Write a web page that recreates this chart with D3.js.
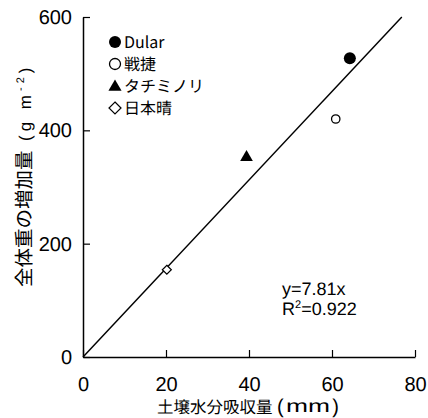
<!DOCTYPE html>
<html><head><meta charset="utf-8">
<script src="https://cdn.jsdelivr.net/npm/d3@7"></script>
<style>body{margin:0;background:#fff}svg{display:block}</style>
</head><body>
<script>
const varieties = ["Dular", "戦捷", "タチミノリ", "日本晴"];
const waterUptake = [64.3, 60.9, 39.4, 20.2];
const weightGain = [527, 420, 354, 154];
const markerTypes = ["filledCircle", "openCircle", "triangle", "diamond"];
const xTicks = [0, 20, 40, 60, 80];
const yTicks = [0, 200, 400, 600];
const slope = 7.81;
const r2 = "0.922";

const W = 428, H = 418;
const svg = d3.select("body").append("svg").attr("width", W).attr("height", H)
  .style("text-rendering", "geometricPrecision");
const x = d3.scaleLinear().domain([0, 80]).range([83, 415]);
const y = d3.scaleLinear().domain([0, 600]).range([357, 17]);
const numFont = "'Liberation Sans', Arial, sans-serif";
const jpFont = "'Noto Sans CJK JP', sans-serif";

// axes
const xa = svg.append("g").attr("transform", `translate(0,${y(0)})`)
  .call(d3.axisBottom(x).tickValues(xTicks).tickSizeInner(-7).tickSizeOuter(0).tickPadding(20));
const ya = svg.append("g").attr("transform", `translate(${x(0)},0)`)
  .call(d3.axisLeft(y).tickValues(yTicks).tickSizeInner(-7).tickSizeOuter(0).tickPadding(11));
[xa, ya].forEach(g => {
  g.selectAll("path.domain").attr("stroke", "#000").attr("stroke-width", 1.5);
  g.selectAll(".tick line").attr("stroke", "#000").attr("stroke-width", 1.2);
  g.selectAll(".tick text").attr("font-family", numFont).attr("font-size", 20).attr("fill", "#000");
});

// regression line
const xEnd = 600 / slope;
svg.append("line").attr("x1", x(0)).attr("y1", y(0)).attr("x2", x(xEnd)).attr("y2", y(slope * xEnd))
  .attr("stroke", "#000").attr("stroke-width", 1.4);

// markers
function drawMarker(g, type, cx, cy, big) {
  if (type === "filledCircle") {
    g.append("circle").attr("cx", cx).attr("cy", cy).attr("r", 6).attr("fill", "#000");
  } else if (type === "openCircle") {
    g.append("circle").attr("cx", cx).attr("cy", cy).attr("r", big ? 5.5 : 4.2)
      .attr("fill", "#fff").attr("stroke", "#000").attr("stroke-width", 1.3);
  } else if (type === "triangle") {
    g.append("path").attr("transform", `translate(${cx},${cy + 1})`)
      .attr("d", d3.symbol().type(d3.symbolTriangle).size(big ? 75 : 70)()).attr("fill", "#000");
  } else {
    const s = big ? 6 : 4.5;
    g.append("path").attr("d", `M${cx},${cy - s}L${cx + s},${cy}L${cx},${cy + s}L${cx - s},${cy}Z`)
      .attr("fill", "#fff").attr("stroke", "#000").attr("stroke-width", 1.2);
  }
}
const pts = svg.append("g");
varieties.forEach((v, i) => drawMarker(pts, markerTypes[i], x(waterUptake[i]), y(weightGain[i]), false));

// legend
const leg = svg.append("g");
varieties.forEach((v, i) => {
  const cy = 42 + i * 22;
  drawMarker(leg, markerTypes[i], 115, cy, true);
  leg.append("text").attr("x", 124).attr("y", cy + 6).attr("font-family", jpFont)
    .attr("font-size", 16).attr("fill", "#000").text(v);
});

// equation
svg.append("text").attr("font-family", numFont).attr("font-size", 18).attr("fill", "#000")
  .attr("x", 282).attr("y", 295).text(`y=${slope}x`);
const t2 = svg.append("text").attr("font-family", numFont).attr("font-size", 18).attr("fill", "#000")
  .attr("x", 282).attr("y", 315);
t2.append("tspan").text("R");
t2.append("tspan").attr("font-size", 11).attr("dy", -7).text("2");
t2.append("tspan").attr("dy", 7).text(`=${r2}`);

// x title
svg.append("text").attr("x", 157).attr("y", 413).attr("fill", "#000")
  .attr("font-family", jpFont).attr("font-size", 16.5).text("土壌水分吸収量");
svg.append("text").attr("x", 277).attr("y", 413).attr("font-family", numFont).attr("font-size", 20)
  .attr("fill", "#000").text("(");
svg.append("text").attr("x", 286).attr("y", 412).attr("font-family", numFont)
  .attr("font-size", 18).attr("textLength", 44).attr("lengthAdjust", "spacingAndGlyphs")
  .attr("fill", "#000").text("mm");
svg.append("text").attr("x", 339).attr("y", 413).attr("text-anchor", "end").attr("font-family", numFont)
  .attr("font-size", 20).attr("fill", "#000").text(")");

// y title
svg.append("text").attr("transform", "translate(31,287) rotate(-90)").attr("fill", "#000")
  .attr("font-family", jpFont).attr("font-size", 19.5).text("全体重の増加量");
const yu = svg.append("text").attr("transform", "translate(31,141) rotate(-90)").attr("fill", "#000")
  .attr("font-family", numFont).attr("font-size", 17).attr("letter-spacing", 4);
yu.append("tspan").text("(g m");
yu.append("tspan").attr("font-size", 11).attr("dy", -7).text("-2");
yu.append("tspan").attr("dy", 7).text(")");
</script>
</body></html>
